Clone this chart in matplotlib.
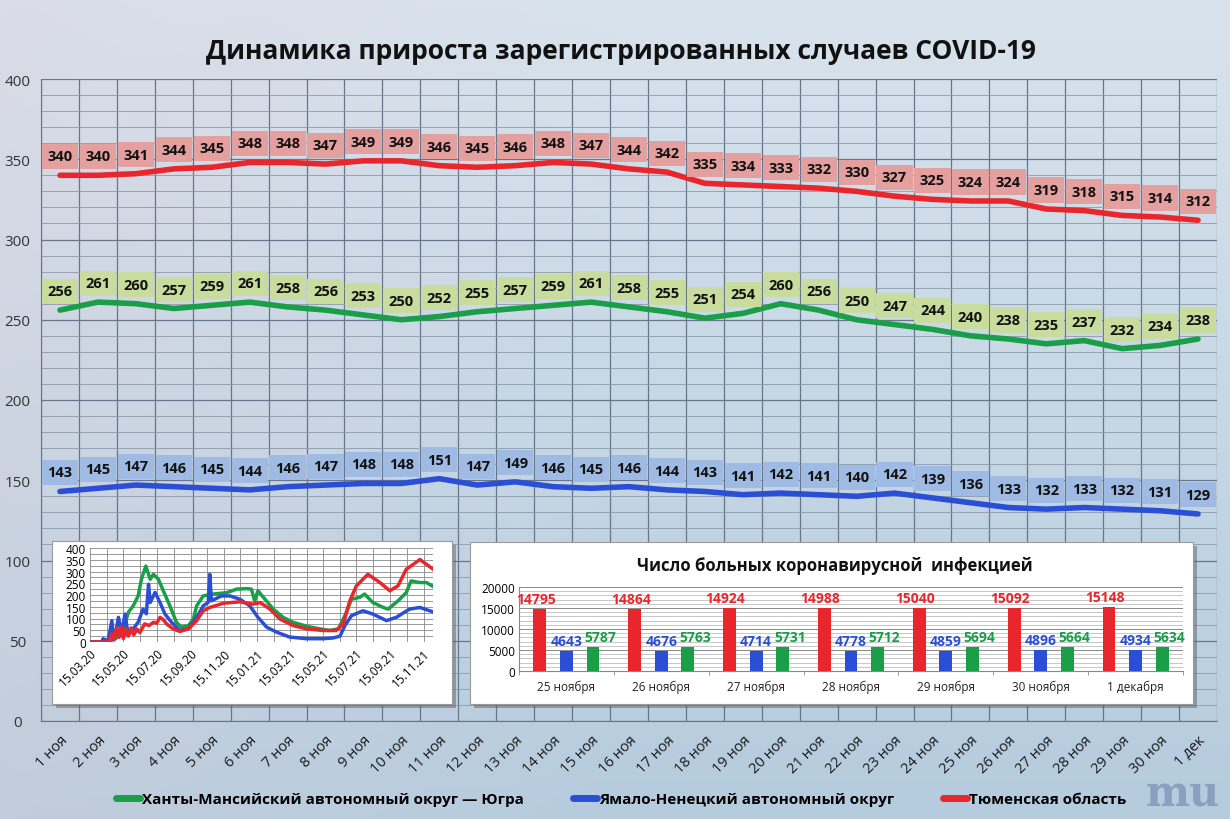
import numpy as np
import pandas as pd
import matplotlib
matplotlib.use('Agg')
import matplotlib.pyplot as plt
import matplotlib.dates as mdates
from matplotlib.patches import Rectangle
from matplotlib.lines import Line2D
from matplotlib.ticker import MultipleLocator, FixedLocator

plt.rcParams['font.family'] = ['Open Sans', 'DejaVu Sans']

# ---------- данные: основной график ----------
days = [f'{d} ноя' for d in range(1, 31)] + ['1 дек']
hmao = [256, 261, 260, 257, 259, 261, 258, 256, 253, 250, 252, 255, 257, 259, 261, 258,
        255, 251, 254, 260, 256, 250, 247, 244, 240, 238, 235, 237, 232, 234, 238]
yanao = [143, 145, 147, 146, 145, 144, 146, 147, 148, 148, 151, 147, 149, 146, 145, 146,
         144, 143, 141, 142, 141, 140, 142, 139, 136, 133, 132, 133, 132, 131, 129]
tyumen = [340, 340, 341, 344, 345, 348, 348, 347, 349, 349, 346, 345, 346, 348, 347, 344,
          342, 335, 334, 333, 332, 330, 327, 325, 324, 324, 319, 318, 315, 314, 312]

# ---------- данные: вся пандемия (дни от 15.03.20) ----------
start = pd.Timestamp('2020-03-15')
hmao_d = [0, 30, 43, 58, 70, 79, 88, 94, 102, 110, 116, 125, 134, 146, 158, 167, 180, 189, 195, 207,
          225, 250, 268, 286, 295, 301, 307, 317, 335, 353, 371, 396, 420, 438, 454, 466, 478, 493, 502, 517,
          536, 545, 563, 578, 587, 603, 615, 626]
hmao_v = [0, 0, 10, 30, 126, 154, 196, 267, 323, 267, 288, 267, 218, 154, 84, 63, 70, 98, 154, 196,
          204, 210, 225, 227, 225, 175, 218, 190, 140, 105, 84, 67, 56, 49, 56, 112, 182, 190, 204, 168,
          147, 140, 175, 210, 260, 253, 253, 238]
yanao_d = [0, 21, 24, 33, 40, 43, 46, 52, 58, 64, 70, 79, 88, 97, 103, 107, 110, 119, 128, 137,
           149, 164, 180, 195, 207, 216, 219, 222, 240, 256, 274, 292, 307, 323, 341, 365, 396, 426, 444, 457,
           466, 478, 499, 517, 542, 560, 584, 603, 626]
yanao_v = [0, 0, 14, 5, 91, 10, 28, 105, 40, 119, 28, 56, 84, 140, 120, 246, 168, 211, 168, 119,
           84, 49, 56, 105, 154, 168, 288, 175, 196, 196, 182, 154, 105, 63, 42, 21, 14, 14, 17, 25,
           70, 112, 133, 119, 91, 105, 140, 147, 129]
tyumen_d = [0, 30, 35, 40, 44, 49, 53, 57, 61, 66, 70, 75, 80, 86, 91, 100, 108, 116, 122, 128,
            134, 140, 152, 164, 180, 195, 207, 219, 244, 274, 298, 311, 329, 347, 371, 396, 426, 450, 463, 475,
            487, 508, 530, 548, 563, 578, 603, 626]
tyumen_v = [0, 0, 5, 35, 10, 60, 20, 65, 15, 55, 25, 60, 30, 55, 40, 77, 70, 84, 80, 105,
            95, 77, 56, 45, 56, 91, 133, 147, 165, 171, 161, 168, 140, 98, 70, 56, 49, 49, 77, 175,
            239, 288, 253, 218, 239, 309, 351, 312]

# ---------- данные: число больных ----------
bar_dates = ['25 ноября', '26 ноября', '27 ноября', '28 ноября', '29 ноября', '30 ноября', '1 декабря']
bar_tyumen = [14795, 14864, 14924, 14988, 15040, 15092, 15148]
bar_yanao = [4643, 4676, 4714, 4778, 4859, 4896, 4934]
bar_hmao = [5787, 5763, 5731, 5712, 5694, 5664, 5634]

RED = '#e8262b'
GREEN = '#1a9e48'
BLUE = '#2b4fd4'
W, H = 1230, 820

fig = plt.figure(figsize=(12.3, 8.2), dpi=100)

# фон
bg = fig.add_axes([0, 0, 1, 1], zorder=-10)
gy = np.linspace(0, 1, 200)[:, None]
gx = np.linspace(0, 1, 200)[None, :]
top = np.array([0.85, 0.89, 0.93])
bot = np.array([0.71, 0.80, 0.87])
pink = np.array([0.87, 0.81, 0.85])
img = top * (1 - gy[..., None]) + bot * gy[..., None]
wpink = np.clip(0.5 - gx, 0, 1)[..., None] * 0.6
img = img * (1 - wpink) + pink * wpink
bg.imshow(img, aspect='auto', extent=[0, 1, 0, 1], origin='upper')
bg.axis('off')


def fpx(x0, y0, x1, y1):
    return [x0 / W, 1 - y1 / H, (x1 - x0) / W, (y1 - y0) / H]


# ---------- основной график ----------
ax = fig.add_axes(fpx(41, 80, 1217, 722))
ax.set_facecolor('none')
x = np.arange(len(days))
series = [(hmao, GREEN, '#c8dc9e', 'Ханты-Мансийский автономный округ — Югра'),
          (yanao, BLUE, '#9fbbe4', 'Ямало-Ненецкий автономный округ'),
          (tyumen, RED, '#e4a09f', 'Тюменская область')]
for vals, col, box, name in series:
    ax.plot(x, vals, color=col, lw=4, solid_capstyle='round', zorder=3)
    for xi, v in zip(x, vals):
        ax.annotate(str(v), (xi, v), xytext=(0, 19), textcoords='offset pixels',
                    ha='center', va='center', fontsize=10.5, fontweight='bold', color='#111111',
                    bbox=dict(boxstyle='square,pad=0.38', fc=box, ec='none'), zorder=4)

ax.set_xlim(-0.5, len(days) - 0.5)
ax.set_ylim(0, 400)
ax.set_xticks(x)
ax.set_xticklabels(days, rotation=45, ha='right', va='top', rotation_mode='anchor', fontsize=10.5,
                   color='#1a1a1a')
ax.xaxis.set_minor_locator(FixedLocator(np.arange(-0.5, len(days), 1)))
ax.yaxis.set_major_locator(MultipleLocator(50))
ax.yaxis.set_minor_locator(MultipleLocator(10))
ax.grid(which='minor', axis='x', color='#67768a', lw=0.9)
ax.grid(which='major', axis='y', color='#67768a', lw=0.9)
ax.grid(which='minor', axis='y', color='#8c99a8', lw=0.6)
ax.set_axisbelow(True)
ax.tick_params(which='both', length=0)
ax.tick_params(axis='x', pad=8)
ax.tick_params(axis='y', pad=17, labelsize=11, labelcolor='#333333')
for lab in ax.get_yticklabels():
    lab.set_horizontalalignment('center')
for s in ['top', 'right']:
    ax.spines[s].set_visible(False)
for s in ['left', 'bottom']:
    ax.spines[s].set_color('#67768a')

fig.text(0.505, 0.937, 'Динамика прироста зарегистрированных случаев COVID-19',
         ha='center', va='center', fontsize=19, fontweight='bold', color='#111111')


# ---------- вставки: белые панели с тенью ----------
def panel(x0, y0, x1, y1):
    r = fpx(x0, y0, x1, y1)
    fig.patches.append(Rectangle((r[0] + 4 / W, r[1] - 4 / H), r[2], r[3], transform=fig.transFigure,
                                 fc='#555555', alpha=0.45, ec='none', zorder=2))
    fig.patches.append(Rectangle((r[0], r[1]), r[2], r[3], transform=fig.transFigure,
                                 fc='white', ec='#9a9a9a', lw=0.8, zorder=3))


panel(52, 542, 452, 705)
panel(470, 543, 1193, 705)

# вставка 1: вся пандемия
ax1 = fig.add_axes(fpx(90, 549, 433, 643), zorder=5)
ax1.set_facecolor('white')
for d, v, col in [(hmao_d, hmao_v, GREEN), (yanao_d, yanao_v, BLUE), (tyumen_d, tyumen_v, RED)]:
    dates = start + pd.to_timedelta(d, unit='D')
    ax1.plot(dates, v, color=col, lw=2.5)
ax1.set_xlim(start, pd.Timestamp('2021-12-02'))
ax1.set_ylim(0, 400)
ax1.yaxis.set_major_locator(MultipleLocator(50))
ax1.yaxis.set_minor_locator(MultipleLocator(25))
ax1.xaxis.set_major_locator(mdates.MonthLocator(bymonth=[1, 3, 5, 7, 9, 11], bymonthday=15))
ax1.xaxis.set_minor_locator(mdates.MonthLocator(bymonthday=15))
ax1.xaxis.set_major_formatter(mdates.DateFormatter('%d.%m.%y'))
ax1.grid(which='both', color='#888888', lw=0.6)
ax1.set_axisbelow(True)
ax1.tick_params(which='both', length=0)
ax1.tick_params(axis='y', labelsize=8.5, pad=3)
ax1.tick_params(axis='x', labelsize=8.5, pad=3)
plt.setp(ax1.get_xticklabels(), rotation=45, ha='right', va='top', rotation_mode='anchor')
for s in ax1.spines.values():
    s.set_visible(False)

# вставка 2: число больных
ax2 = fig.add_axes(fpx(519, 588, 1183, 672), zorder=5)
ax2.set_facecolor('white')
gx2 = np.arange(len(bar_dates))
bw = 0.135
for off, vals, col, dx in [(-0.28, bar_tyumen, RED, -4), (0, bar_yanao, BLUE, 0), (0.28, bar_hmao, GREEN, 7)]:
    ax2.bar(gx2 + off, vals, width=bw, color=col, zorder=3)
    for xi, v in zip(gx2 + off, vals):
        ax2.annotate(str(v), (xi, v), xytext=(dx, 10), textcoords='offset pixels', ha='center',
                     va='center', fontsize=10, fontweight='bold', color=col, zorder=4)
ax2.set_xlim(-0.5, len(bar_dates) - 0.5)
ax2.set_ylim(0, 20000)
ax2.set_xticks(gx2)
ax2.set_xticklabels(bar_dates, fontsize=8.5, color='#222222')
ax2.xaxis.set_minor_locator(FixedLocator(np.arange(-0.5, len(bar_dates), 1)))
ax2.yaxis.set_major_locator(MultipleLocator(5000))
ax2.yaxis.set_minor_locator(MultipleLocator(1000))
ax2.grid(which='major', axis='y', color='#888888', lw=0.7)
ax2.grid(which='minor', axis='y', color='#b0b0b0', lw=0.5)
ax2.set_axisbelow(True)
ax2.tick_params(axis='x', which='major', length=0, pad=6)
ax2.tick_params(axis='x', which='minor', length=3, color='#888888')
ax2.tick_params(axis='y', which='both', length=0, labelsize=8.5, pad=3)
for s in ['top', 'right']:
    ax2.spines[s].set_visible(False)
for s in ['left', 'bottom']:
    ax2.spines[s].set_color('#888888')

fig.text(835 / W, 1 - 566 / H, 'Число больных коронавирусной  инфекцией', ha='center', va='center',
         fontsize=12, fontweight='bold', color='#111111', zorder=6)

# ---------- легенда ----------
handles = [Line2D([], [], color=col, lw=5, solid_capstyle='round') for _, col, _, _ in series]
names = [name for _, _, _, name in series]
fig.legend(handles, names, loc='center', bbox_to_anchor=(0.505, 0.024), ncol=3, frameon=False,
           prop={'size': 11, 'weight': 'bold'}, handlelength=1.6, handletextpad=0.1, columnspacing=3.2)

# логотип
fig.text(1183 / W, 1 - 795 / H, 'mu', ha='center', va='center', fontsize=30, fontweight='bold',
         family='DejaVu Serif', color='#7f95b8', alpha=0.8)

fig.savefig('out.png', dpi=100)
